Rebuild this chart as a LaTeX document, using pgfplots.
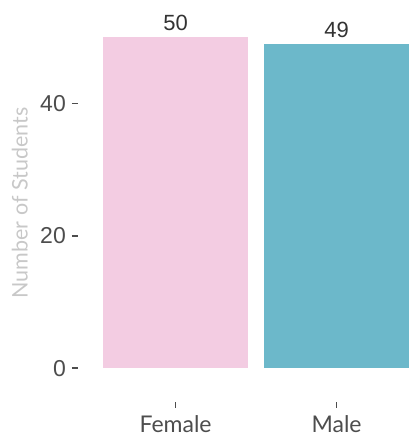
\documentclass[border=0pt]{standalone}
\usepackage{pgfplots}
\pgfplotsset{compat=1.18}
\usepackage{fontspec}
\setmainfont{Lato}
\newfontfamily\arial{Liberation Sans}
\definecolor{pinkc}{RGB}{243,204,226}
\definecolor{tealc}{RGB}{108,184,202}
\definecolor{tickc}{RGB}{77,77,77}
\definecolor{titlec}{RGB}{200,200,200}
\begin{document}
\begin{tikzpicture}
\begin{axis}[
  at={(78pt,36pt)}, anchor=south west,
  scale only axis,
  width=331pt, height=398pt,
  xmin=0.394, xmax=2.45,
  ymin=-5.1, ymax=55,
  axis lines=left,
  axis line style={-, draw=none},
  /pgf/number format/assume math mode=true,
  xtick={1,2},
  xticklabels={Female, Male},
  ytick={0,20,40},
  tick align=outside,
  major tick length=6pt,
  tick style={line width=1.6pt, color=tickc},
  yticklabel style={font=\arial\fontsize{23}{23}\selectfont, text=tickc, inner sep=0pt, xshift=-6pt},
  xticklabel style={font=\fontsize{23}{23}\selectfont, text=tickc, inner sep=0pt, yshift=-7pt},
  ylabel={Number of Students},
  ylabel shift=9pt,
  ylabel style={font=\fontsize{21.5}{21.5}\selectfont, text=titlec},
  nodes near coords,
  every node near coord/.append style={font=\arial\fontsize{22}{22}\selectfont, text=black!80, anchor=south, inner sep=0pt, yshift=6pt},
  bar width=0.9,
  clip=false,
]
\addplot[ybar, fill=pinkc, draw=none] coordinates {(1,50)};
\addplot[ybar, fill=tealc, draw=none] coordinates {(2,49)};
\end{axis}
\pgfresetboundingbox
\path[use as bounding box] (0,0) rectangle (409pt,438pt);
\end{tikzpicture}
\end{document}
